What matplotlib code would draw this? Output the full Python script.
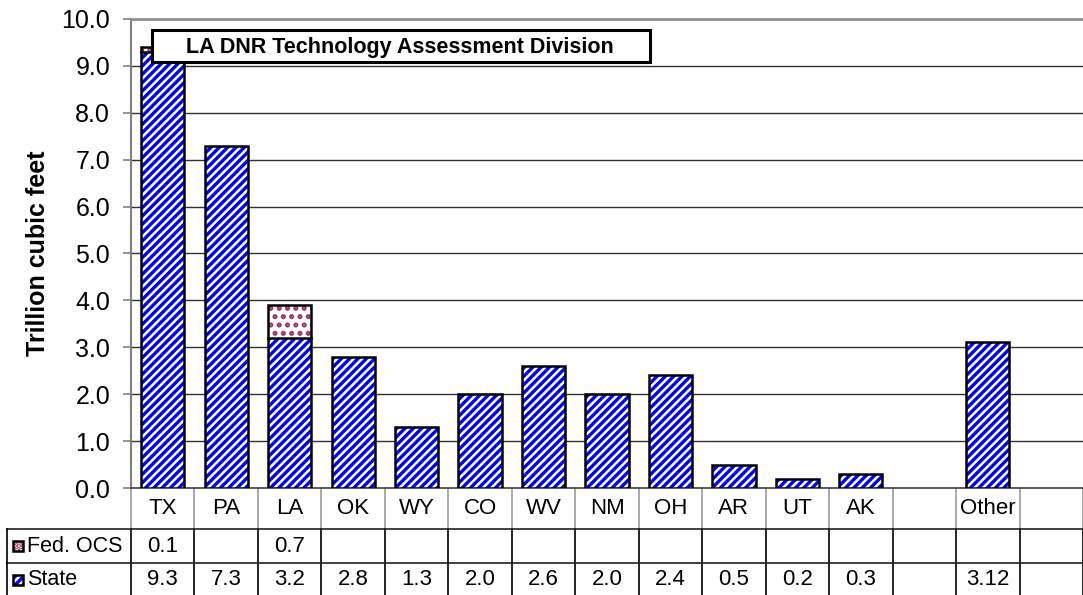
import matplotlib.pyplot as plt
from matplotlib.patches import Rectangle
from matplotlib.transforms import blended_transform_factory

# Data
categories = ["TX", "PA", "LA", "OK", "WY", "CO", "WV", "NM", "OH", "AR", "UT", "AK", "", "Other", ""]
state = [9.3, 7.3, 3.2, 2.8, 1.3, 2.0, 2.6, 2.0, 2.4, 0.5, 0.2, 0.3, None, 3.12, None]
fed_ocs = [0.1, None, 0.7, None, None, None, None, None, None, None, None, None, None, None, None]
series_names = ["Fed. OCS", "State"]

plt.rcParams["font.family"] = ["Liberation Sans", "DejaVu Sans"]
plt.rcParams["hatch.linewidth"] = 2.4

W, H = 1083, 595
fig = plt.figure(figsize=(W / 100, H / 100), dpi=100)

def fx(px):
    return px / W

def fy(py):
    return (H - py) / H

ax = fig.add_axes([fx(131), fy(488), 1 - fx(131), fy(19) - fy(488)])

blue = "#0000ff"
maroon = "#993366"
fs = 16

x = list(range(len(categories)))
st = [v if v is not None else 0 for v in state]
fd = [v if v is not None else 0 for v in fed_ocs]

# hatched fill then black outline
ax.bar(x, st, width=0.68, color="white", edgecolor=blue, hatch="////", linewidth=0, zorder=3)
ax.bar(x, fd, width=0.68, bottom=st, color="white", edgecolor=maroon, hatch="..", linewidth=0, zorder=3)
for i in x:
    tot = st[i] + fd[i]
    if tot > 0:
        ax.add_patch(Rectangle((i - 0.34, 0), 0.68, tot, fill=False, edgecolor="black", linewidth=1.8, zorder=4))
        if fd[i] > 0:
            ax.plot([i - 0.34, i + 0.34], [st[i], st[i]], color="black", linewidth=1.8, zorder=4)

ax.set_xlim(-0.5, len(categories) - 0.5)
ax.set_ylim(0, 10)
ax.set_yticks([i for i in range(11)])
ax.set_yticklabels([f"{i:.1f}" for i in range(11)], fontsize=18)
ax.set_xticks([])
ax.tick_params(axis="y", length=6, color="#808080", width=1.2, pad=9)
for yv in range(1, 10):
    ax.axhline(yv, color="#303030", linewidth=1, zorder=1)
ax.spines["right"].set_visible(False)
ax.spines["top"].set_color("#909090")
ax.spines["top"].set_linewidth(2)
ax.spines["left"].set_color("#808080")
ax.spines["left"].set_linewidth(1.5)
ax.spines["bottom"].set_color("#404040")
ax.spines["bottom"].set_linewidth(1.2)
ax.set_ylabel("Trillion cubic feet", fontsize=18, fontweight="bold", labelpad=8)

# title box
ax.add_patch(Rectangle((fx(152), fy(62)), fx(650) - fx(152), fy(30) - fy(62),
                       transform=fig.transFigure, facecolor="white", edgecolor="black",
                       linewidth=2.2, zorder=5, clip_on=False))
ax.text(fx(400), fy(47), "LA DNR Technology Assessment Division", transform=fig.transFigure,
        ha="center", va="center", fontsize=15.5, fontweight="bold", zorder=6)

# data table below the axis
tr = blended_transform_factory(ax.transData, fig.transFigure)
y_top, y_r1, y_r2, y_bot = fy(488), fy(529), fy(563), fy(596)
for i in range(len(categories) + 1):
    xb = i - 0.5
    ax.plot([xb, xb], [y_top, y_r1], transform=tr, color="#9a9a9a", linewidth=1.2, clip_on=False)
    ax.plot([xb, xb], [y_r1, y_bot], transform=tr, color="black", linewidth=1.2, clip_on=False)
for yy in (y_r1, y_r2):
    fig.add_artist(plt.Line2D([fx(7), 1], [yy, yy], transform=fig.transFigure, color="#202020", linewidth=1.2))
fig.add_artist(plt.Line2D([fx(7), fx(7)], [y_r1, y_bot], transform=fig.transFigure, color="black", linewidth=1.2))

def fmt(v):
    s = f"{v:.2f}"
    return s[:-1] if s.endswith("0") else s

for i, c in enumerate(categories):
    ax.text(i, (y_top + y_r1) / 2, c, transform=tr, ha="center", va="center", fontsize=fs, clip_on=False)
    if fed_ocs[i] is not None:
        ax.text(i, (y_r1 + y_r2) / 2, fmt(fed_ocs[i]), transform=tr, ha="center", va="center", fontsize=fs)
    if state[i] is not None:
        ax.text(i, (y_r2 + y_bot) / 2, fmt(state[i]), transform=tr, ha="center", va="center", fontsize=fs)

# row labels with legend keys
for name, yc, col, hatch in [(series_names[0], (y_r1 + y_r2) / 2, maroon, "...."),
                             (series_names[1], (y_r2 + y_bot) / 2, blue, "////")]:
    fig.patches.append(Rectangle((fx(13), yc - 5 / H), 10 / W, 10 / H, transform=fig.transFigure,
                                 facecolor="white", edgecolor=col, hatch=hatch, linewidth=0))
    fig.patches.append(Rectangle((fx(13), yc - 5 / H), 10 / W, 10 / H, transform=fig.transFigure,
                                 fill=False, edgecolor="black", linewidth=1.8))
    fig.text(fx(27), yc, name, ha="left", va="center", fontsize=15.5)

fig.savefig("out.png", dpi=100)
